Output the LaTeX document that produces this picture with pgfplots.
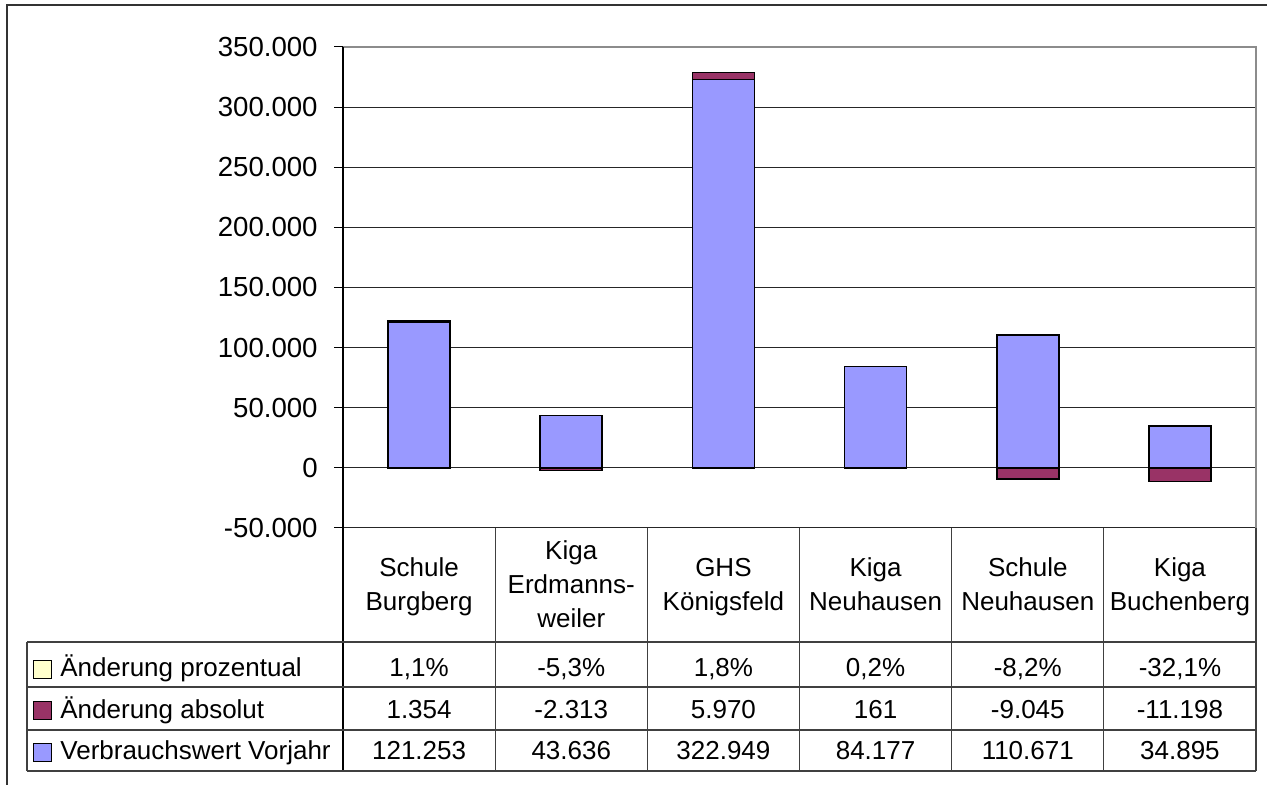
\documentclass[border=0pt]{standalone}
\usepackage{fontspec}
\setmainfont{Liberation Sans}
\usepackage{pgfplots}
\pgfplotsset{compat=1.18}
\definecolor{cblue}{HTML}{9999FF}
\definecolor{cpurple}{HTML}{993366}
\definecolor{cyellow}{HTML}{FFFFCC}
\newcommand\tf{\fontsize{13}{17}\selectfont}
\begin{document}
\begin{tikzpicture}
\path[use as bounding box] (0,0) rectangle (633.5pt,392.5pt);
\begin{axis}[name=main, at={(171.5pt,128.5pt)}, anchor=south west, scale only axis,
  width=456.5pt, height=240.5pt, xmin=-0.5, xmax=5.5, ymin=-50000, ymax=350000,
  ytick={-50000,0,50000,100000,150000,200000,250000,300000,350000},
  yticklabels={-50.000,0,50.000,100.000,150.000,200.000,250.000,300.000,350.000},
  scaled y ticks=false,
  xtick=\empty, ymajorgrids, grid style={black!85, line width=0.5pt},
  axis line style={draw=none}, ytick pos=left, tick align=outside,
  major tick length=4.5pt, tick style={black, line width=0.5pt},
  yticklabel style={font=\fontsize{13.8}{16}\selectfont, inner sep=0pt, anchor=east, xshift=-8pt},
  ybar stacked, bar width=31pt, clip=false]
\addplot[fill=cblue, draw=black, line width=0.8pt] coordinates {(0,121253) (1,43636) (2,322949) (3,84177) (4,110671) (5,34895)};
\addplot[fill=cpurple, draw=black, line width=0.8pt] coordinates {(0,1354) (1,0) (2,5970) (3,161) (4,0) (5,0)};
\end{axis}
\begin{axis}[at={(171.5pt,128.5pt)}, anchor=south west, scale only axis,
  width=456.5pt, height=240.5pt, xmin=-0.5, xmax=5.5, ymin=-50000, ymax=350000,
  hide axis, ybar, bar width=31pt, bar shift=0pt, clip=false]
\addplot[fill=cpurple, draw=black, line width=0.8pt] coordinates {(1,-2313) (4,-9045) (5,-11198)};
\addplot[fill=cyellow, draw=black, line width=0.8pt] coordinates {(0,0.011) (1,-0.053) (2,0.018) (3,0.002) (4,-0.082) (5,-0.321)};
\end{axis}
% plot area borders
\draw[black!45, line width=1.3pt] (171.5pt,369pt) -- (628pt,369pt) -- (628pt,128.5pt);
\draw[black, line width=0.6pt] (171.5pt,7pt) -- (171.5pt,369pt);
% table
\begin{scope}[black!75, line width=0.6pt]
\foreach \x in {247.583,323.667,399.75,475.833,551.917,628} \draw (\x pt,128.5pt) -- (\x pt,7pt);
\foreach \y in {71.5,49,27.5,7} \draw (13.5pt,\y pt) -- (628pt,\y pt);
\draw (13.5pt,71.5pt) -- (13.5pt,7pt);
\end{scope}
% header
\begin{scope}[every node/.style={inner sep=0pt, anchor=base, font=\tf}]
\node at (209.54pt,104.15pt) {Schule};
\node at (209.54pt,87.15pt) {Burgberg};
\node at (285.63pt,112.65pt) {Kiga};
\node at (285.63pt,95.65pt) {Erdmanns-};
\node at (285.63pt,78.65pt) {weiler};
\node at (361.71pt,104.15pt) {GHS};
\node at (361.71pt,87.15pt) {Königsfeld};
\node at (437.79pt,104.15pt) {Kiga};
\node at (437.79pt,87.15pt) {Neuhausen};
\node at (513.88pt,104.15pt) {Schule};
\node at (513.88pt,87.15pt) {Neuhausen};
\node at (589.96pt,104.15pt) {Kiga};
\node at (589.96pt,87.15pt) {Buchenberg};
% rows
\foreach \x/\v in {209.54/{1,1\%},285.63/{-5,3\%},361.71/{1,8\%},437.79/{0,2\%},513.88/{-8,2\%},589.96/{-32,1\%}} \node at (\x pt,54.15pt) {\v};
\foreach \x/\v in {209.54/1.354,285.63/-2.313,361.71/5.970,437.79/161,513.88/-9.045,589.96/-11.198} \node at (\x pt,33.35pt) {\v};
\foreach \x/\v in {209.54/121.253,285.63/43.636,361.71/322.949,437.79/84.177,513.88/110.671,589.96/34.895} \node at (\x pt,12.5pt) {\v};
\node[anchor=base west] at (30pt,54.15pt) {Änderung prozentual};
\node[anchor=base west] at (30pt,33.35pt) {Änderung absolut};
\node[anchor=base west] at (30pt,12.5pt) {Verbrauchswert Vorjahr};
\end{scope}
\draw[black, line width=0.5pt, fill=cyellow] (16.5pt,53.45pt) rectangle (25.5pt,62.45pt);
\draw[black, line width=0.5pt, fill=cpurple] (16.5pt,32.65pt) rectangle (25.5pt,41.65pt);
\draw[black, line width=0.5pt, fill=cblue] (16.5pt,11.8pt) rectangle (25.5pt,20.8pt);
% outer frame
\draw[black!80, line width=1pt] (3.5pt,0pt) -- (3.5pt,390pt) -- (633.5pt,390pt);
\end{tikzpicture}
\end{document}
